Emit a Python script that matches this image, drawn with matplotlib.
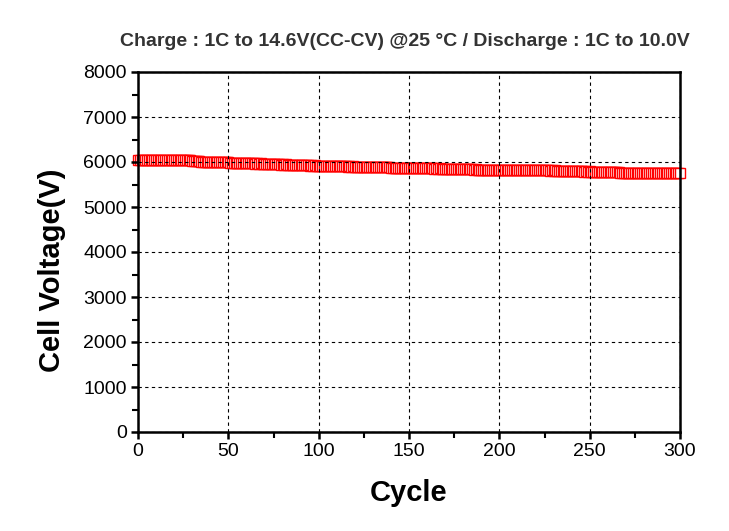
import matplotlib
matplotlib.use("Agg")
import matplotlib.pyplot as plt
from matplotlib import font_manager as fm
from matplotlib.ticker import MultipleLocator

names = {f.name for f in fm.fontManager.ttflist}
base = "Liberation Sans" if "Liberation Sans" in names else "DejaVu Sans"
plt.rcParams['font.family'] = [base, 'DejaVu Sans']

cycles = list(range(0, 301))
voltage = [
    6050, 6048, 6052, 6046, 6049, 6051, 6047, 6050, 6045, 6048,
    6046, 6049, 6044, 6047, 6050, 6043, 6046, 6048, 6042, 6045,
    6041, 6044, 6040, 6043, 6039, 6042, 6038, 6040, 6036, 6039,
    6030, 6026, 6022, 6018, 6015, 6010, 6006, 6004, 6002, 6000,
    5998, 6001, 5997, 5999, 5996, 5998, 5994, 5996, 5993, 5995,
    5990, 5987, 5984, 5980, 5977, 5975, 5972, 5970, 5972, 5969,
    5971, 5968, 5970, 5967, 5969, 5966, 5968, 5965, 5967, 5964,
    5960, 5956, 5952, 5950, 5948, 5946, 5949, 5945, 5947, 5944,
    5946, 5943, 5945, 5942, 5944, 5941, 5943, 5940, 5942, 5939,
    5935, 5932, 5929, 5926, 5924, 5922, 5925, 5921, 5923, 5920,
    5922, 5919, 5921, 5918, 5920, 5917, 5919, 5916, 5918, 5915,
    5917, 5914, 5912, 5908, 5905, 5902, 5900, 5903, 5899, 5901,
    5898, 5900, 5897, 5899, 5896, 5898, 5895, 5897, 5894, 5896,
    5893, 5895, 5892, 5894, 5891, 5893, 5890, 5886, 5882, 5878,
    5875, 5872, 5870, 5873, 5869, 5871, 5868, 5870, 5867, 5869,
    5866, 5868, 5865, 5867, 5864, 5866, 5863, 5865, 5862, 5864,
    5861, 5858, 5856, 5859, 5855, 5857, 5854, 5856, 5853, 5855,
    5852, 5854, 5851, 5853, 5850, 5852, 5849, 5851, 5848, 5850,
    5847, 5849, 5846, 5842, 5838, 5835, 5832, 5834, 5831, 5833,
    5830, 5832, 5829, 5831, 5828, 5830, 5827, 5829, 5826, 5828,
    5825, 5827, 5824, 5826, 5823, 5825, 5822, 5824, 5821, 5823,
    5820, 5822, 5819, 5821, 5818, 5820, 5817, 5819, 5816, 5818,
    5815, 5817, 5814, 5816, 5813, 5815, 5812, 5814, 5811, 5813,
    5810, 5812, 5809, 5811, 5808, 5806, 5802, 5798, 5795, 5792,
    5794, 5791, 5793, 5790, 5792, 5789, 5791, 5788, 5790, 5787,
    5789, 5786, 5788, 5785, 5787, 5784, 5786, 5783, 5785, 5782,
    5784, 5781, 5783, 5780, 5776, 5772, 5768, 5765, 5762, 5764,
    5761, 5763, 5760, 5762, 5759, 5761, 5758, 5760, 5757, 5759,
    5756, 5758, 5755, 5757, 5754, 5756, 5753, 5755, 5752, 5754,
    5751, 5753, 5750, 5752, 5749, 5748, 5746, 5749, 5745, 5747,
    5745,
]

title = "Charge : 1C to 14.6V(CC-CV) @25 \u00b0C / Discharge : 1C to 10.0V"
xlabel = "Cycle"
ylabel = "Cell Voltage(V)"

fig = plt.figure(figsize=(7.29, 5.31), dpi=100)
ax = fig.add_axes([138/729, 1-432/531, (680-138)/729, (432-72)/531])

ax.plot(cycles, voltage, linestyle='none', marker='s', markersize=6.6,
        markerfacecolor='white', markeredgecolor='red', markeredgewidth=1.0,
        clip_on=False, zorder=2)

ax.set_xlim(0, 300)
ax.set_ylim(0, 8000)
ax.xaxis.set_major_locator(MultipleLocator(50))
ax.xaxis.set_minor_locator(MultipleLocator(25))
ax.yaxis.set_major_locator(MultipleLocator(1000))
ax.yaxis.set_minor_locator(MultipleLocator(500))
ax.set_axisbelow(False)
ax.grid(True, which='major', color='black', linestyle=(0, (3, 3)), linewidth=0.8)

for s in ax.spines.values():
    s.set_linewidth(1.8)
ax.tick_params(which='major', direction='out', length=5, width=1.8,
               labelsize=14, pad=3)
ax.tick_params(which='minor', direction='out', length=4, width=1.5)

ax.set_xlabel(xlabel, fontsize=21, fontweight='bold')
ax.set_ylabel(ylabel, fontsize=21, fontweight='bold')
ax.xaxis.set_label_coords(0.5, -0.13)
ax.yaxis.set_label_coords(-0.159, 0.45)
ax.yaxis.label.set_va('center')
fig.text(405/729, 1-42/531, title, fontsize=14, fontweight='bold',
         color='#333333', ha='center', va='center')

fig.savefig("out.png", dpi=100)
